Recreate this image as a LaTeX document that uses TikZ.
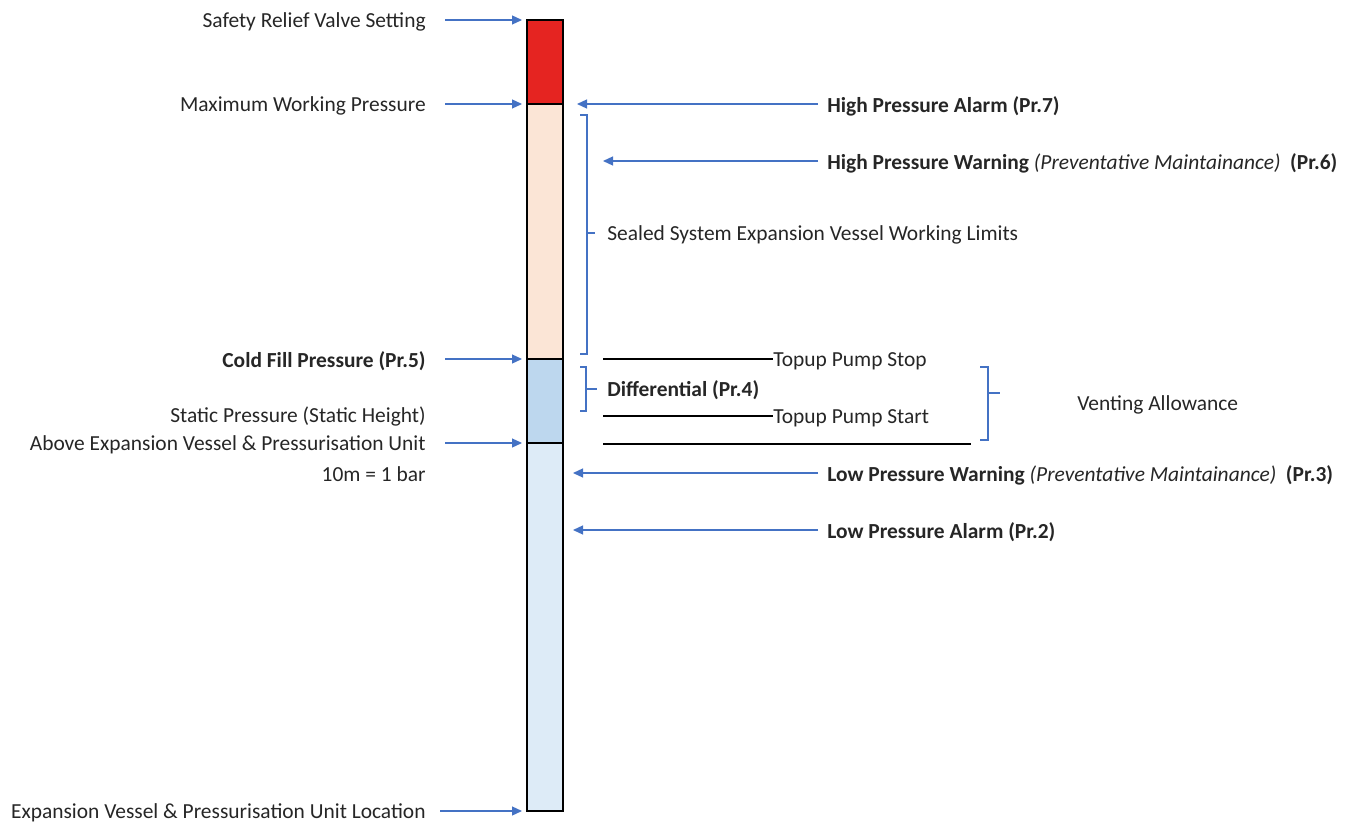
\documentclass[tikz,border=0pt]{standalone}
\usepackage{fontspec}
\setmainfont{Carlito}
\usetikzlibrary{arrows.meta,positioning}
\definecolor{reliefred}{HTML}{E52421}
\definecolor{workpeach}{HTML}{FBE5D6}
\definecolor{staticblue}{HTML}{BDD7EE}
\definecolor{lowblue}{HTML}{DDEBF7}
\definecolor{ptrblue}{HTML}{4472C4}

\begin{document}
\begin{tikzpicture}[x=0.02cm, y=-0.02cm, font=\fontsize{12.2}{14}\selectfont, text=black!85,
                    lbl/.style={inner sep=0pt, anchor=east, yshift=-0.04cm},
                    note/.style={inner sep=0pt, anchor=west, yshift=-0.04cm},
                    ptr/.style={-{Triangle[length=2mm,width=1.8mm]}, draw=ptrblue, line width=0.7pt},
                    brace/.style={draw=ptrblue, line width=0.7pt},
                    band/.style={draw=black, line width=0.8pt}]

\useasboundingbox (0,0) rectangle (1345,824);

% pressure column
\draw[band, fill=lowblue]    (527,443) rectangle (563,811);
\draw[band, fill=staticblue] (527,359) rectangle (563,443);
\draw[band, fill=workpeach]  (527,104) rectangle (563,359);
\draw[band, fill=reliefred]  (527,20)  rectangle (563,104);

% left labels
\node[lbl] (srv)    at (426,20)  {Safety Relief Valve Setting};
\node[lbl] (mwp)    at (426,104) {Maximum Working Pressure};
\node[lbl] (cfp)    at (426,359) {\textbf{Cold Fill Pressure (Pr.5)}};
\node[lbl] (stat)   at (426,415) {Static Pressure (Static Height)};
\node[lbl] (above)  at (426,443) {Above Expansion Vessel \& Pressurisation Unit};
\node[lbl] (tenm)   at (426,472) {10m = 1 bar};
\node[lbl] (unit)   at (426,811) {Expansion Vessel \& Pressurisation Unit Location};

\coordinate (srvend)   at (522,20);
\coordinate (mwpend)   at (522,104);
\coordinate (cfpend)   at (522,359);
\coordinate (aboveend) at (522,443);
\coordinate (unitend)  at (522,811);

\draw[ptr, shorten <=0.38cm] (srv.east |- srvend) -- (srvend);
\draw[ptr, shorten <=0.38cm] (mwp.east |- mwpend) -- (mwpend);
\draw[ptr, shorten <=0.38cm] (cfp.east |- cfpend) -- (cfpend);
\draw[ptr, shorten <=0.38cm] (above.east |- aboveend) -- (aboveend);
\draw[ptr, shorten <=0.28cm] (unit.east |- unitend) -- (unitend);

% right labels
\node[note] (hpa) at (827,104) {\textbf{High Pressure Alarm (Pr.7)}};
\node[note] (hpw) at (827,161) {\textbf{High Pressure Warning} \textit{(Preventative Maintainance)}\hspace{0.45em}\textbf{(Pr.6)}};
\node[note] (lpw) at (827,473) {\textbf{Low Pressure Warning} \textit{(Preventative Maintainance)}\hspace{0.45em}\textbf{(Pr.3)}};
\node[note] (lpa) at (827,530) {\textbf{Low Pressure Alarm (Pr.2)}};

\coordinate (hpaend) at (577,104);
\coordinate (hpwend) at (603,161);
\coordinate (lpwend) at (573,473);
\coordinate (lpaend) at (573,530);

\draw[ptr, shorten <=0.18cm] (hpa.west |- hpaend) -- (hpaend);
\draw[ptr, shorten <=0.18cm] (hpw.west |- hpwend) -- (hpwend);
\draw[ptr, shorten <=0.18cm] (lpw.west |- lpwend) -- (lpwend);
\draw[ptr, shorten <=0.18cm] (lpa.west |- lpaend) -- (lpaend);

% working limits
\node[note] (seal) at (607,233) {Sealed System Expansion Vessel Working Limits};
\draw[brace] (580,115) -- (587,115) -- (587,354) -- (580,354);
\draw[brace] (587,233) -- (595,233);

% topup pump
\node[note] (stop)  at (773,359) {Topup Pump Stop};
\node[note] (start) at (773,416) {Topup Pump Start};
\node[note] (diff)  at (607,388) {\textbf{Differential (Pr.4)}};
\coordinate (stopL)  at (603,359);
\coordinate (startL) at (603,416);
\coordinate (ventL)  at (603,444);
\coordinate (ventR)  at (971,444);
\draw[line width=0.8pt] (stopL) -- (stop.west |- stopL);
\draw[line width=0.8pt] (startL) -- (start.west |- startL);
\draw[line width=0.8pt] (ventL) -- (ventR);
\draw[brace] (580,367) -- (586,367) -- (586,411) -- (580,411);
\draw[brace] (586,389) -- (597,389);

% venting
\node[note] (vent) at (1077,403) {Venting Allowance};
\draw[brace] (980,367) -- (988,367) -- (988,440) -- (980,440);
\draw[brace] (988,393) -- (1000,393);

\end{tikzpicture}
\end{document}
